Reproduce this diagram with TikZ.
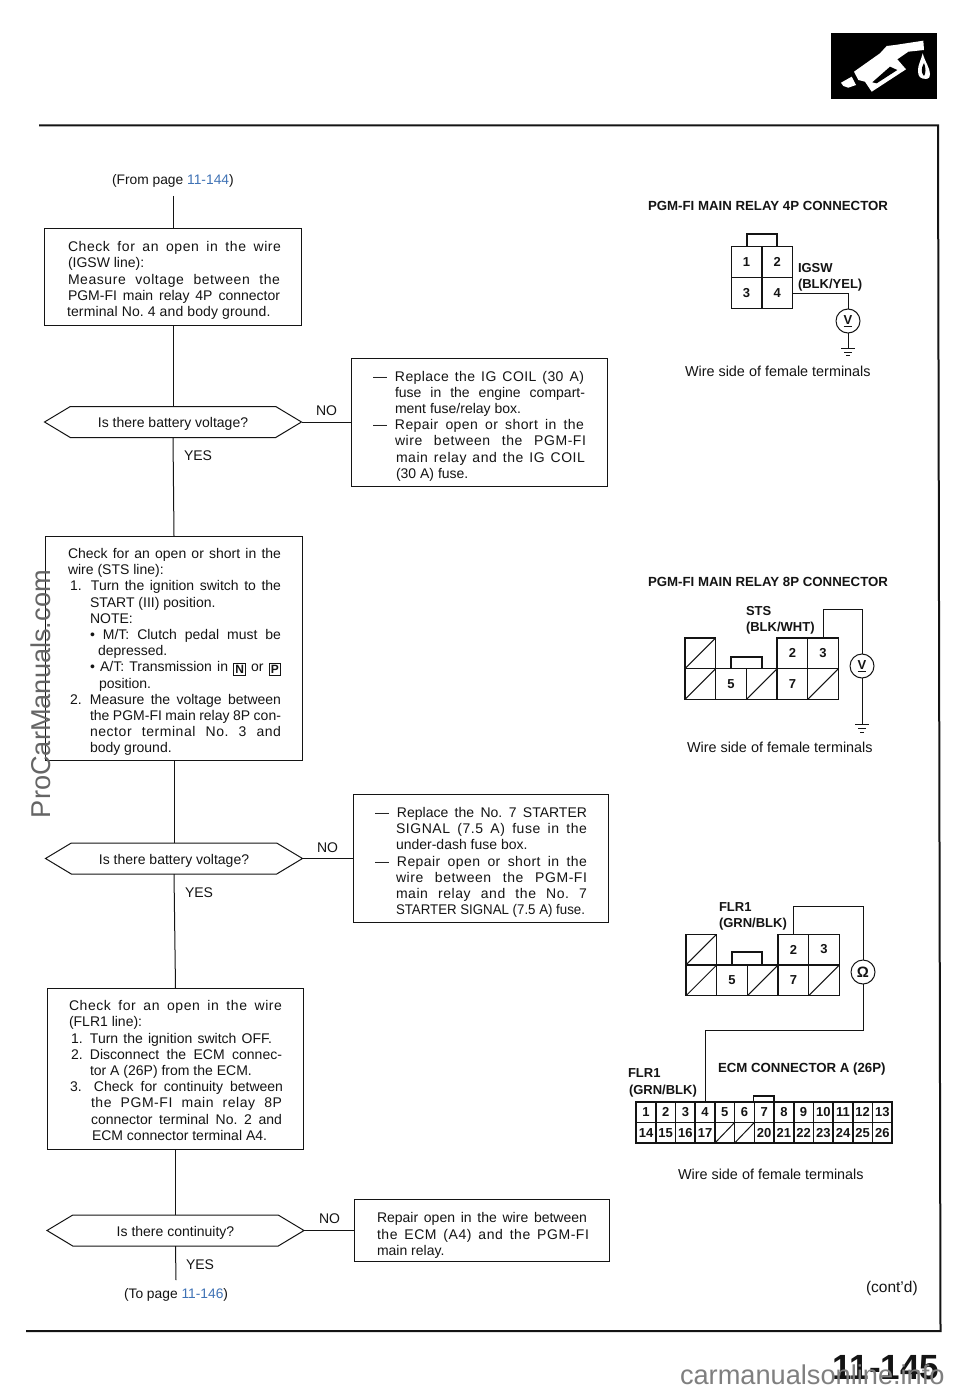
\documentclass[tikz,border=0pt]{standalone}
\usepackage{fontspec}
\usepackage{graphicx}
\setmainfont{Liberation Sans}
\usetikzlibrary{shapes.symbols,calc}
\hfuzz=50pt
\definecolor{ink}{HTML}{141414}
\definecolor{lnk}{HTML}{3F72B5}
\definecolor{wm}{HTML}{7F7F7F}
\newcommand\jl[3][0]{\hspace*{#1pt}\makebox[#2pt][s]{#3}\par}
\newcommand\jx[3][0]{\hspace*{#1pt}\makebox[#2pt][s]{\addfontfeature{LetterSpace=4}#3}\par}
\newcommand\nl[2][0]{\hspace*{#1pt}#2\par}
\newcommand\num[4][0]{\hspace*{2pt}\makebox[#1pt][l]{#2}\makebox[#3pt][s]{#4}\par}
\newcommand\dsh[2]{\makebox[22pt][l]{—}\makebox[#1pt][s]{#2}\par}
\newcommand\dsx[2]{\makebox[22pt][l]{—}\makebox[#1pt][s]{\addfontfeature{LetterSpace=3}#2}\par}
\newcommand\keybox[1]{\raisebox{-1.5pt}{\fboxsep=1.2pt\fboxrule=.9pt\fbox{\fontsize{12}{12}\selectfont\bfseries #1}}}
\newcommand\bt[3]{\parbox[c]{#1pt}{\vspace*{#3pt}\parindent=0pt\parskip=0pt\frenchspacing\fontsize{14}{16.2}\selectfont #2}}
\tikzset{
 wire/.style={draw=ink,line width=1pt},
 boxn/.style={draw=ink,line width=1pt,rectangle,inner sep=0pt,outer sep=0pt,font=\fontsize{14}{16.2}\selectfont,text=ink},
 ask/.style={draw=ink,line width=1pt,signal,signal to=west and east,signal pointer angle=62,minimum width=257pt,minimum height=31pt,inner sep=0pt,outer sep=0pt,font=\fontsize{14}{16}\selectfont,text=ink,text height=14pt,text depth=3pt},
 lab/.style={anchor=base west,inner sep=0pt,outer sep=0pt,text=ink,font=\fontsize{14}{16}\selectfont},
 side/.style={lab,font=\fontsize{14.4}{16}\selectfont},
 head/.style={lab,font=\fontsize{13.25}{16}\selectfont\bfseries},
 wname/.style={lab,font=\fontsize{13}{16}\selectfont\bfseries},
 cell/.style={draw=ink,line width=1.3pt,rectangle,inner sep=0pt,outer sep=0pt,minimum width=30.7pt,minimum height=30.7pt,font=\fontsize{13}{13}\selectfont\bfseries,text=ink},
 ecell/.style={draw=ink,line width=1.6pt,rectangle,inner sep=0pt,outer sep=0pt,minimum width=19.7pt,minimum height=20.5pt,font=\fontsize{13}{13}\selectfont\bfseries,text=ink},
 hatch/.style={path picture={\draw[ink,line width=1pt] (path picture bounding box.south west) -- (path picture bounding box.north east);}},
 meter/.style={draw=ink,line width=1pt,circle,minimum size=24pt,inner sep=0pt,outer sep=0pt,fill=white,font=\fontsize{13}{13}\selectfont\bfseries,text=ink},
}
\begin{document}
\begin{tikzpicture}[x=1pt,y=-1pt]
\useasboundingbox (0,0) rectangle (960,1391);
\fill[white] (0,0) rectangle (960,1391);
% icon
\node[rectangle,fill=black,inner sep=0pt,minimum width=106pt,minimum height=66pt] (icon) at (884,66) {};
\fill[white] (841,82.7) -- (851.7,76.7) -- (856,85) -- (848.3,87.7) -- (843.3,86) -- cycle;
\fill[white] (854,71.7) -- (880,53.3) -- (886.7,46) -- (895,45) -- (923.3,40.7) -- (924,50) -- (908.3,51.7) -- (897.3,59.3) -- (906,69.3) -- (871.7,91.7) -- (865,81.7) -- (858.3,80) -- cycle;
\fill[black] (872.3,82.3) -- (890,66.7) -- (897.3,70) -- (876.7,83.3) -- cycle;
\fill[white] (922.7,53.3) .. controls (925,62) and (930,68) .. (930,74) .. controls (930,80) and (926,79) .. (922.7,78.5) .. controls (918,78) and (918,72) .. (918,70) .. controls (918,65) and (921,60) .. (922.7,53.3) -- cycle;
\fill[black] (924,63) .. controls (921,68) and (921,73) .. (924,76) .. controls (926,73) and (926,68) .. (924,63) -- cycle;
% page frame
\coordinate (fa) at (39,125.5);
\coordinate (fb) at (938,125.5);
\coordinate (fc) at (940.5,1331);
\coordinate (fd) at (26,1331);
\draw[ink,line width=2pt] (fa) -- (fb) -- (fc) -- (fd);
% flow left
\node[lab,font=\fontsize{13.8}{16}\selectfont] (from) at (112,185) {(From page \textcolor{lnk}{11-144})};
\coordinate (top) at (173,196);
\node[boxn,minimum width=257pt,minimum height=97pt] (b1) at (173,276.5) {\bt{212}{%
\jx[1]{213}{Check for an open in the wire}
\nl[1]{(IGSW line):}
\jx[1]{212}{Measure voltage between the}
\jl[1]{212}{PGM-FI main relay 4P connector}
\nl{\addfontfeature{LetterSpace=1}terminal No. 4 and body ground.}}{8}};
\node[ask] (d1) at (173,422) {Is there battery voltage?};
\node[boxn,minimum width=256pt,minimum height=128pt] (r1) at (479,422) {\bt{212}{%
\dsx{189}{Replace the IG COIL (30 A)}
\jl[22]{190}{fuse in the engine compart-}
\nl[22]{ment fuse/relay box.}
\dsx{189}{Repair open or short in the}
\jx[22]{191}{wire between the PGM-FI}
\jx[23]{189}{main relay and the IG COIL}
\nl[23]{(30 A) fuse.}}{8}};
\node[lab] (no1) at (316,415) {NO};
\node[lab] (yes1) at (184,460) {YES};
\node[boxn,minimum width=257pt,minimum height=224pt] (b2) at (174,648) {\bt{212}{%
\jl{213}{Check for an open or short in the}
\nl{wire (STS line):}
\num[21]{1.}{190}{Turn the ignition switch to the}
\nl[22]{START (III) position.}
\nl[22]{NOTE:}
\jl[22]{191}{• M/T: Clutch pedal must be}
\nl[30]{depressed.}
\jl[22]{191}{• A/T: Transmission in \keybox{N} or \keybox{P}}
\nl[31]{position.}
\num[20]{2.}{191}{Measure the voltage between}
\jl[22]{191}{the PGM-FI main relay 8P con-}
\jx[22]{191}{nector terminal No. 3 and}
\nl[22]{body ground.}}{8}};
\node[ask] (d2) at (174,858.5) {Is there battery voltage?};
\node[boxn,minimum width=255pt,minimum height=128pt] (r2) at (480.5,858.5) {\bt{211}{%
\dsh{190}{Replace the No. 7 STARTER}
\jx[21]{191}{SIGNAL (7.5 A) fuse in the}
\nl[21]{under-dash fuse box.}
\dsx{190}{Repair open or short in the}
\jx[21]{191}{wire between the PGM-FI}
\jx[21]{191}{main relay and the No. 7}
\hspace*{21pt}\resizebox{189pt}{\height}{STARTER SIGNAL (7.5 A) fuse.}\par}{8}};
\node[lab] (no2) at (317,852) {NO};
\node[lab] (yes2) at (185,897) {YES};
\node[boxn,minimum width=256pt,minimum height=161pt] (b3) at (175.5,1068.5) {\bt{213}{%
\jx{213}{Check for an open in the wire}
\nl{(FLR1 line):}
\num[19]{1.}{182}{Turn the ignition switch OFF.}
\num[19]{2.}{192}{Disconnect the ECM connec-}
\nl[21]{tor A (26P) from the ECM.}
\hspace*{1pt}\makebox[24pt][l]{3.}\makebox[189pt][s]{Check for continuity between}\par
\jx[22]{191}{the PGM-FI main relay 8P}
\jl[22]{191}{connector terminal No. 2 and}
\nl[23]{ECM connector terminal A4.}}{4}};
\node[ask] (d3) at (175.5,1230.5) {Is there continuity?};
\node[boxn,minimum width=255pt,minimum height=62pt] (r3) at (481.5,1230.5) {\bt{209}{%
\jl{210}{Repair open in the wire between}
\jx{212}{the ECM (A4) and the PGM-FI}
\nl{main relay.}}{10}};
\node[lab] (no3) at (319,1223) {NO};
\node[lab] (yes3) at (186,1269) {YES};
\coordinate (bot) at (176,1280);
\node[lab,font=\fontsize{13.8}{16}\selectfont] (to) at (124,1298) {(To page \textcolor{lnk}{11-146})};
\node[lab,font=\fontsize{15.5}{16}\selectfont] (cont) at (866,1292) {(cont'd)};
\draw[wire] (top) -- (b1.north);
\draw[wire] (b1.south) -- (d1.north);
\draw[wire] (d1.south) -- (b2.north);
\draw[wire] (b2.south) -- (d2.north);
\draw[wire] (d2.south) -- (b3.north);
\draw[wire] (b3.south) -- (d3.north);
\draw[wire] (d3.south) -- (bot);
\draw[wire] (d1.east) -- (r1.west);
\draw[wire] (d2.east) -- (r2.west);
\draw[wire] (d3.east) -- (r3.west);
% 4P connector
\node[head] (h4) at (648,210) {PGM-FI MAIN RELAY 4P CONNECTOR};
\node[cell] (a1) at (746.5,262) {1};
\node[cell] (a2) at (777.2,262) {2};
\node[cell] (a3) at (746.5,293) {3};
\node[cell] (a4) at (777.2,293) {4};
\draw[ink,line width=1.3pt] (747,246) |- (777,234) -- (777,246);
\node[wname] (igsw) at (798,272) {IGSW};
\node[wname] (igsw2) at (798,288) {(BLK/YEL)};
\node[meter] (v1) at (848,321) {\underline{V}};
\coordinate (g1) at (848,348);
\draw[wire] (a4.east) -| (v1.north);
\draw[wire] (v1.south) -- (g1);
\draw[wire,shift={(g1)}] (-7,0) -- (7,0) (-4,4) -- (4,4) (-2,7.5) -- (2,7.5);
\node[side] (w1) at (685,376) {Wire side of female terminals};
% 8P connector A
\node[head] (h8) at (648,586) {PGM-FI MAIN RELAY 8P CONNECTOR};
\node[cell,hatch] (p1) at (700.4,653.2) {};
\node[cell] (p2) at (792.4,653.2) {2};
\node[cell] (p3) at (823.1,653.2) {3};
\node[cell,hatch] (p4) at (700.4,684) {};
\node[cell] (p5) at (731.1,684) {5};
\node[cell,hatch] (p6) at (761.8,684) {};
\node[cell] (p7) at (792.4,684) {7};
\node[cell,hatch] (p8) at (823.1,684) {};
\draw[ink,line width=1.3pt] (731,668) |- (762,657) -- (762,668);
\node[wname] (sts) at (746,615) {STS};
\node[wname] (sts2) at (746,631) {(BLK/WHT)};
\node[meter] (v2) at (862,666) {\underline{V}};
\coordinate (g2) at (862,724);
\coordinate (sb) at (862,609);
\draw[wire] (p3.north) |- (sb) -- (v2.north);
\draw[wire] (v2.south) -- (g2);
\draw[wire,shift={(g2)}] (-7,0) -- (7,0) (-4,4) -- (4,4) (-2,8) -- (2,8);
\node[side] (w2) at (687,752) {Wire side of female terminals};
% 8P connector B
\node[cell,hatch] (q1) at (701.4,949.5) {};
\node[cell] (q2) at (793.4,949.5) {2};
\node[cell] (q3) at (824.1,949.5) {3};
\node[cell,hatch] (q4) at (701.4,980.3) {};
\node[cell] (q5) at (732.1,980.3) {5};
\node[cell,hatch] (q6) at (762.8,980.3) {};
\node[cell] (q7) at (793.4,980.3) {7};
\node[cell,hatch] (q8) at (824.1,980.3) {};
\draw[ink,line width=1.3pt] (732,965) |- (762,952) -- (762,965);
\node[wname] (f1) at (719,911) {FLR1};
\node[wname] (f2) at (719,927) {(GRN/BLK)};
\node[meter,font=\fontsize{15}{15}\selectfont\bfseries] (o) at (863,972) {Ω};
\coordinate (qa) at (863,906);
\coordinate (qb) at (863,1030);
% ECM connector
\node[head] (hecm) at (718,1072) {ECM CONNECTOR A (26P)};
\node[wname] (f3) at (628,1077) {FLR1};
\node[wname] (f4) at (629,1094) {(GRN/BLK)};
\foreach \n/\lbl [count=\i from 0] in {e1/1,e2/2,e3/3,e4/4,e5/5,e6/6,e7/7,e8/8,e9/9,e10/10,e11/11,e12/12,e13/13}
  \node[ecell] (\n) at (646+\i*19.7,1112.2) {\lbl};
\foreach \n/\lbl [count=\i from 0] in {e14/14,e15/15,e16/16,e17/17,e18/,e19/,e20/20,e21/21,e22/22,e23/23,e24/24,e25/25,e26/26}
  \node[ecell] (\n) at (646+\i*19.7,1132.7) {\lbl};
\node[ecell,hatch] at (e18) {};
\node[ecell,hatch] at (e19) {};
\draw[ink,line width=2.4pt] (e1.north west) rectangle (e26.south east);
\draw[ink,line width=1.6pt] (753.5,1102) |- (774,1096) -- (774,1102);
\draw[wire] (q2.north) |- (qa) -- (o.north);
\draw[wire] (o.south) -- (qb) -| (e4.north);
\node[side] (w3) at (678,1179) {Wire side of female terminals};
% page number and watermarks
\node[lab,font=\fontsize{35}{35}\selectfont\bfseries] (pg) at (832,1379) {11-145};
\node[lab,text=wm,font=\fontsize{27.2}{27}\selectfont] (wm1) at (680,1384) {carmanualsonline.info};
\node[lab,text=wm!80!black,rotate=90,font=\fontsize{27.2}{27}\selectfont] (wm2) at (50,818) {ProCarManuals.com};
\end{tikzpicture}
\end{document}
